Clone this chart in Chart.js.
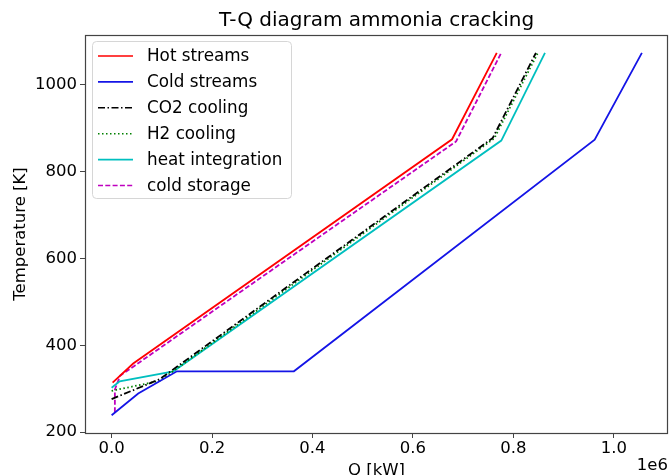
<!DOCTYPE html>
<html lang="en">
  <head>
    <meta charset="utf-8">
    <script src="https://cdn.jsdelivr.net/npm/chart.js@4"></script>
    <title>T-Q diagram ammonia cracking</title>
    <style>
      body { margin: 0; background: #fff; }
      canvas { display: block; }
    </style>
  </head>
  <body>
    <canvas id="chart" width="671" height="475"></canvas>
    <script>
      // Q in kW, T in K, one pair of arrays per curve
      const hotQ = [2000, 43000, 678000, 767000];
      const hotT = [314, 358, 874, 1073];
      const coldQ = [0, 53000, 130000, 363000, 962000, 1056000];
      const coldT = [239, 289, 340, 340, 873, 1073];
      const co2Q = [0, 96000, 759000, 845000];
      const co2T = [276, 322, 877, 1073];
      const h2Q = [0, 96000, 762000, 849000];
      const h2T = [295, 318, 876, 1073];
      const heatQ = [0, 16000, 123000, 776000, 863000];
      const heatT = [302, 317, 340, 871, 1073];
      const storageQ = [6500, 6500, 17000, 46000, 686000, 776000];
      const storageT = [246, 298, 330, 353, 869, 1073];

      const xTicks = [0, 200000, 400000, 600000, 800000, 1000000];
      const yTicks = [200, 400, 600, 800, 1000];

      const FONT = '"DejaVu Sans", sans-serif';
      Chart.defaults.font.family = FONT;

      function pts(q, t) {
        return q.map((v, i) => ({x: v, y: t[i]}));
      }

      const series = [
        {label: 'Hot streams', data: pts(hotQ, hotT), color: '#ff0000', dash: []},
        {label: 'Cold streams', data: pts(coldQ, coldT), color: '#1414e6', dash: []},
        {label: 'CO2 cooling', data: pts(co2Q, co2T), color: '#000000', dash: [7, 2.5, 1.5, 2.5]},
        {label: 'H2 cooling', data: pts(h2Q, h2T), color: '#008000', dash: [1.5, 2.5]},
        {label: 'heat integration', data: pts(heatQ, heatT), color: '#00bfbf', dash: []},
        {label: 'cold storage', data: pts(storageQ, storageT), color: '#bf00bf', dash: [5, 2.3]}
      ];

      // box around the axes, matplotlib-style legend and the texts
      const decor = {
        id: 'decor',
        afterDraw(chart) {
          const ctx = chart.ctx;
          const a = chart.chartArea;
          ctx.save();
          ctx.strokeStyle = '#444';
          ctx.lineWidth = 1.2;
          ctx.strokeRect(a.left + 0.5, a.top + 0.5, a.right - a.left - 1, a.bottom - a.top);

          // legend
          const lx = 92, ly = 41, lw = 199, lh = 157;
          ctx.beginPath();
          ctx.roundRect(lx + 0.5, ly + 0.5, lw, lh, 4);
          ctx.fillStyle = 'rgba(255,255,255,0.8)';
          ctx.fill();
          ctx.strokeStyle = '#d6d6d6';
          ctx.lineWidth = 1;
          ctx.stroke();
          ctx.font = '16.8px ' + FONT;
          ctx.textBaseline = 'middle';
          ctx.textAlign = 'left';
          series.forEach((s, i) => {
            const y = 56 + i * 25.9;
            ctx.beginPath();
            ctx.setLineDash(s.dash);
            ctx.strokeStyle = s.color;
            ctx.lineWidth = 1.6;
            ctx.moveTo(98, y);
            ctx.lineTo(133, y);
            ctx.stroke();
            ctx.setLineDash([]);
            ctx.fillStyle = '#000';
            ctx.fillText(s.label, 147, y + 1);
          });

          // title and axis labels
          ctx.fillStyle = '#000';
          ctx.textAlign = 'center';
          ctx.textBaseline = 'alphabetic';
          ctx.font = '20px ' + FONT;
          ctx.fillText('T-Q diagram ammonia cracking', (a.left + a.right) / 2, 26);
          ctx.font = '16.5px ' + FONT;
          ctx.fillText('Q [kW]', (a.left + a.right) / 2, 475);
          ctx.textAlign = 'right';
          ctx.fillText('1e6', a.right, 470);
          ctx.translate(21, (a.top + a.bottom) / 2);
          ctx.rotate(-Math.PI / 2);
          ctx.textAlign = 'center';
          ctx.textBaseline = 'middle';
          ctx.fillText('Temperature [K]', 0, 0);
          ctx.restore();
        }
      };

      new Chart(document.getElementById('chart'), {
        type: 'scatter',
        data: {
          datasets: series.map(s => ({
            label: s.label,
            data: s.data,
            showLine: true,
            borderColor: s.color,
            backgroundColor: s.color,
            borderDash: s.dash,
            borderWidth: 1.8,
            pointRadius: 0,
            fill: false,
            tension: 0
          }))
        },
        options: {
          responsive: false,
          animation: false,
          layout: {padding: {top: 35, right: 3, left: 0, bottom: 0}},
          plugins: {
            legend: {display: false},
            tooltip: {enabled: false},
            title: {display: false}
          },
          scales: {
            x: {
              type: 'linear',
              min: -53000,
              max: 1108000,
              afterBuildTicks: s => { s.ticks = xTicks.map(v => ({value: v})); },
              afterFit: s => { s.height = 42; },
              grid: {drawOnChartArea: false, tickLength: 5, color: '#444'},
              border: {display: false},
              ticks: {
                color: '#000',
                padding: 1,
                autoSkip: false,
                maxRotation: 0,
                font: {size: 16.5},
                callback: v => (v / 1e6).toFixed(1)
              }
            },
            y: {
              type: 'linear',
              min: 198,
              max: 1114,
              afterBuildTicks: s => { s.ticks = yTicks.map(v => ({value: v})); },
              afterFit: s => { s.width = 85; },
              grid: {drawOnChartArea: false, tickLength: 5, color: '#444'},
              border: {display: false},
              ticks: {
                color: '#000',
                padding: 3,
                autoSkip: false,
                font: {size: 16.5},
                callback: v => String(v)
              }
            }
          }
        },
        plugins: [decor]
      });
    </script>
  </body>
</html>
